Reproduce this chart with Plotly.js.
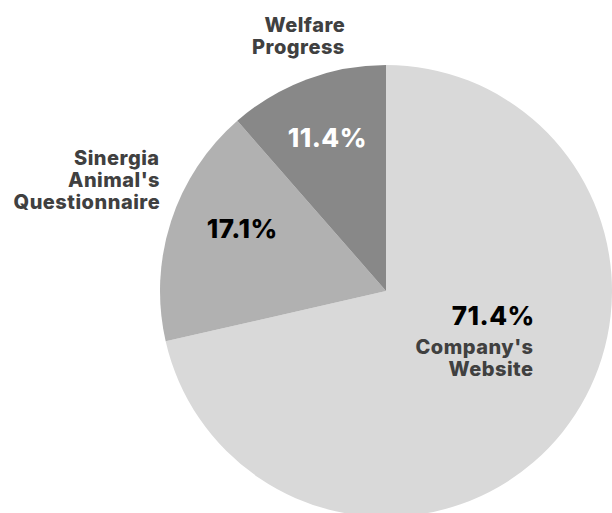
<!DOCTYPE html>
<html>
<head>
<meta charset="utf-8">
<script src="https://cdn.plot.ly/plotly-3.0.1.min.js"></script>
<style>
html, body { margin: 0; padding: 0; overflow: hidden; background: #fff; }
#chart { width: 612px; height: 520px; }
#chart .annotation-text { letter-spacing: 0.5px; }
</style>
</head>
<body>
<div id="chart"></div>
<script>
const categories = ["Company's Website", "Sinergia Animal's Questionnaire", "Welfare Progress"];
const labelLines = [["Company's", "Website"], ["Sinergia", "Animal's", "Questionnaire"], ["Welfare", "Progress"]];
const counts = [25, 6, 4];
const sliceColors = ['#d9d9d9', '#b1b1b1', '#888888'];
const pctColors = ['#000000', '#000000', '#ffffff'];

const W = 612, H = 520;
const total = counts.reduce((a, b) => a + b, 0);
const pctText = counts.map(v => (v / total * 100).toFixed(1) + '%');

const px = x => x / W;
const py = y => 1 - y / H;

const labelFont = {family: 'Inter, sans-serif', size: 20, color: '#404040', weight: 800};
const pctFont = c => ({family: 'Inter, sans-serif', size: 26, color: c, weight: 800});

// label placement (pixel anchors): right edge and centre of first line, line step
const labelPos = [
  {x: 535, y: 346.5, step: 22},
  {x: 160.5, y: 158, step: 22},
  {x: 345.5, y: 24.5, step: 22}
];
const pctPos = [
  {x: 536, y: 315.5, anchor: 'right'},
  {x: 242, y: 228, anchor: 'center'},
  {x: 327, y: 137.5, anchor: 'center'}
];

const annotations = [];
pctText.forEach((t, i) => {
  annotations.push({text: t, x: px(pctPos[i].x), y: py(pctPos[i].y), xanchor: pctPos[i].anchor, yanchor: 'middle', font: pctFont(pctColors[i])});
});
labelLines.forEach((lines, i) => {
  lines.forEach((line, j) => {
    annotations.push({text: line, x: px(labelPos[i].x), y: py(labelPos[i].y + j * labelPos[i].step), xanchor: 'right', yanchor: 'middle', align: 'right', borderpad: 0, font: labelFont});
  });
});
annotations.forEach(a => Object.assign(a, {xref: 'paper', yref: 'paper', showarrow: false}));

const trace = {
  type: 'pie',
  labels: categories,
  values: counts,
  sort: false,
  direction: 'clockwise',
  rotation: 0,
  marker: {colors: sliceColors, line: {width: 0}},
  textinfo: 'none',
  hoverinfo: 'none',
  showlegend: false,
  domain: {x: [160 / W, 1], y: [(H - 517) / H, (H - 65) / H]}
};

const layout = {
  width: W,
  height: H,
  margin: {l: 0, r: 0, t: 0, b: 0},
  paper_bgcolor: '#ffffff',
  plot_bgcolor: '#ffffff',
  showlegend: false,
  annotations: annotations
};

Plotly.newPlot('chart', [trace], layout, {displayModeBar: false, staticPlot: true});
</script>
</body>
</html>
